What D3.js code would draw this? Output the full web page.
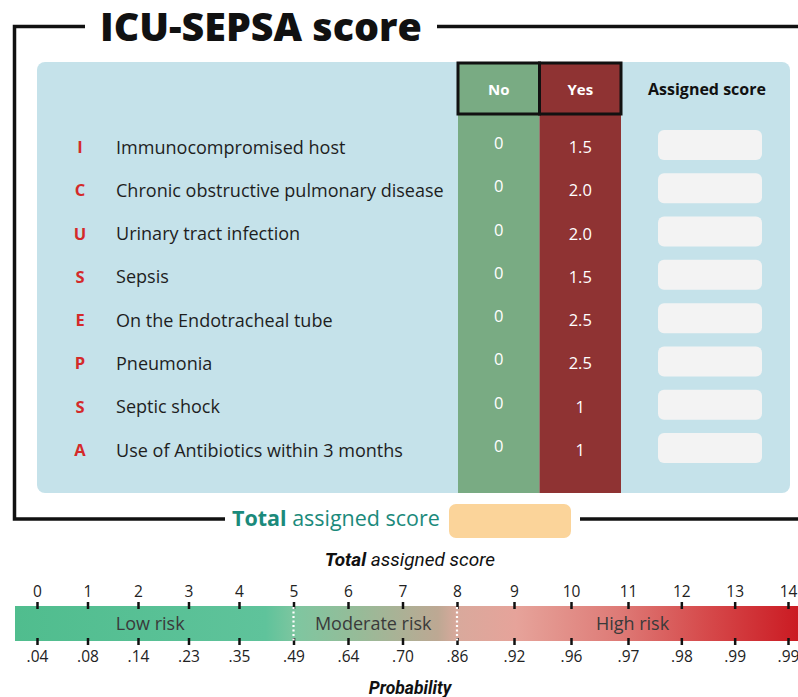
<!DOCTYPE html>
<html><head><meta charset="utf-8">
<script src="https://cdn.jsdelivr.net/npm/d3@7"></script>
<style>html,body{margin:0;padding:0;background:#fff;}svg{display:block;}</style>
</head><body>
<script>
// ---- data ----
const letters = ["I","C","U","S","E","P","S","A"];
const criteria = ["Immunocompromised host","Chronic obstructive pulmonary disease","Urinary tract infection","Sepsis","On the Endotracheal tube","Pneumonia","Septic shock","Use of Antibiotics within 3 months"];
const noScores = ["0","0","0","0","0","0","0","0"];
const yesScores = ["1.5","2.0","2.0","1.5","2.5","2.5","1","1"];
const columnHeaders = ["No","Yes","Assigned score"];
const totalScores = [0,1,2,3,4,5,6,7,8,9,10,11,12,13,14];
const probabilities = [".04",".08",".14",".23",".35",".49",".64",".70",".86",".92",".96",".97",".98",".99",".99"];
const riskBoundaries = [5, 8];
const riskLabels = ["Low risk","Moderate risk","High risk"];

const W = 798, H = 697;
const font = "'Open Sans', 'Noto Sans', sans-serif";
const svg = d3.select("body").append("svg").attr("width", W).attr("height", H)
  .style("font-family", font);

function fit(sel, target){ const n = sel.node(); const w = n.getComputedTextLength(); const fs = parseFloat(sel.attr("font-size")); sel.attr("font-size", fs*target/w); return fs*target/w; }

// ---- frame and title ----
const frame = svg.append("g").attr("stroke","#111").attr("stroke-width",3.5).attr("fill","none");
frame.append("path").attr("d","M85,26.5 H14.5 V519 H225");
frame.append("path").attr("d","M437,26.5 H798");
frame.append("path").attr("d","M580,519 H798");
const title = svg.append("text").attr("x",100).attr("y",41).attr("font-size",38).attr("font-weight",800)
  .attr("fill","#111").text("ICU-SEPSA score");
fit(title, 322);

// ---- panel ----
svg.append("rect").attr("x",37).attr("y",62).attr("width",753).attr("height",431).attr("rx",8).attr("fill","#c5e2ea");

const colX = d3.scaleBand().domain(["No","Yes"]).range([458, 621]);
const colFill = {No:"#79ab83", Yes:"#8f3333"};
svg.selectAll("rect.col").data(["No","Yes"]).join("rect").attr("class","col")
  .attr("x", d=>colX(d)).attr("y",62).attr("width",colX.bandwidth()).attr("height",431)
  .attr("fill", d=>colFill[d]);
svg.selectAll("rect.hdr").data(["No","Yes"]).join("rect").attr("class","hdr")
  .attr("x", d=>colX(d)).attr("y",63).attr("width",colX.bandwidth()).attr("height",51)
  .attr("fill","none").attr("stroke","#111").attr("stroke-width",3);
svg.selectAll("text.hdr").data(["No","Yes"]).join("text").attr("class","hdr")
  .attr("x", d=>colX(d)+colX.bandwidth()/2).attr("y",95).attr("text-anchor","middle")
  .attr("font-size",15).attr("font-weight",700).attr("fill","#fff").text(d=>d);
svg.append("text").attr("x",707).attr("y",95).attr("text-anchor","middle").attr("font-size",16)
  .attr("font-weight",700).attr("fill","#111").text(columnHeaders[2]);

const rowY = d3.scalePoint().domain(d3.range(criteria.length)).range([147, 450]);
const rows = svg.selectAll("g.row").data(criteria).join("g").attr("class","row")
  .attr("transform",(d,i)=>`translate(0,${rowY(i)})`);
rows.append("text").attr("x",80).attr("y",6).attr("text-anchor","middle").attr("font-size",16.5)
  .attr("font-weight",700).attr("fill","#d42a2a").text((d,i)=>letters[i]);
const lab = rows.append("text").attr("x",116).attr("y",6.5).attr("font-size",16).attr("font-weight",500).attr("fill","#1e1e1e").text(d=>d);
// fit longest label width
const longest = lab.filter((d,i)=>i===1);
const lfs = fit(longest, 328);
lab.attr("font-size", lfs);
rows.append("text").attr("x",colX("No")+colX.bandwidth()/2).attr("y",2).attr("text-anchor","middle")
  .attr("font-size",16.5).attr("fill","#fff").text((d,i)=>noScores[i]);
rows.append("text").attr("x",colX("Yes")+colX.bandwidth()/2).attr("y",6).attr("text-anchor","middle")
  .attr("font-size",16.5).attr("fill","#fff").text((d,i)=>yesScores[i]);
rows.append("rect").attr("x",658).attr("y",-17).attr("width",104).attr("height",30).attr("rx",6)
  .attr("fill","#f3f3f3");

// ---- total assigned score ----
const tot = svg.append("text").attr("x",232).attr("y",526).attr("font-size",20).attr("fill","#1b8a7b");
tot.append("tspan").attr("font-weight",700).text("Total");
tot.append("tspan").text(" assigned score");
fit(tot, 208);
svg.append("rect").attr("x",449).attr("y",504).attr("width",122).attr("height",34).attr("rx",7).attr("fill","#fbd49a");

// ---- risk scale ----
const sub = svg.append("text").attr("x",410).attr("y",566).attr("text-anchor","middle")
  .attr("font-family","Roboto, sans-serif").attr("font-style","italic").attr("font-size",19).attr("fill","#111");
sub.append("tspan").attr("font-weight",700).text("Total");
sub.append("tspan").text(" assigned score");

const x = d3.scaleLinear().domain([0,4,8,11,14]).range([37,239,457,628,788]);
const barX0 = 15, barX1 = 798, barY = 606, barH = 35;
const defs = svg.append("defs");
const grad = defs.append("linearGradient").attr("id","riskgrad").attr("x1","0").attr("x2","1").attr("y1","0").attr("y2","0");
const stops = [[0,"#50bd8e"],[0.32,"#5fc39b"],[0.36,"#7fc6a0"],[0.44,"#97bb98"],[0.54,"#bda893"],[0.565,"#d9a99c"],[0.64,"#e6a39a"],[0.77,"#de7b77"],[0.88,"#d64b4c"],[1,"#cb1b23"]];
grad.selectAll("stop").data(stops).join("stop").attr("offset",d=>d[0]).attr("stop-color",d=>d[1]);
svg.append("rect").attr("x",barX0).attr("y",barY).attr("width",barX1-barX0).attr("height",barH).attr("fill","url(#riskgrad)");

const topAxis = d3.axisTop(x).tickValues(totalScores).tickSize(7).tickPadding(5).tickFormat(d3.format("d"));
const ga = svg.append("g").attr("transform",`translate(0,${barY+3})`).call(topAxis);
const botAxis = d3.axisBottom(x).tickValues(totalScores).tickSize(7).tickPadding(6).tickFormat((d,i)=>probabilities[i]);
const gb = svg.append("g").attr("transform",`translate(0,${barY+barH-3})`).call(botAxis);
[ga,gb].forEach(g=>{
  g.select(".domain").remove();
  g.selectAll(".tick line").attr("stroke","#111").attr("stroke-width",2.5);
  g.selectAll(".tick text").attr("font-family",font).attr("font-size",15.5).attr("fill","#222");
});

svg.selectAll("line.bound").data(riskBoundaries).join("line").attr("class","bound")
  .attr("x1",d=>x(d)).attr("x2",d=>x(d)).attr("y1",barY+1).attr("y2",barY+barH)
  .attr("stroke","#fff").attr("stroke-width",2.2).attr("stroke-dasharray","2,2.5");

const edges = [barX0, x(riskBoundaries[0]), x(riskBoundaries[1]), barX1];
svg.selectAll("text.risk").data(riskLabels).join("text").attr("class","risk")
  .attr("x",(d,i)=>(edges[i]+edges[i+1])/2 - (i===0?4:i===2?-5:2)).attr("y",barY+barH/2+6.5)
  .attr("text-anchor","middle").attr("font-size",18).attr("fill","#3a3a3a").text(d=>d);

svg.append("text").attr("x",410).attr("y",694).attr("text-anchor","middle")
  .attr("font-family","Roboto, sans-serif").attr("font-style","italic").attr("font-weight",700)
  .attr("font-size",17.5).attr("fill","#111").text("Probability");
</script>
</body></html>
